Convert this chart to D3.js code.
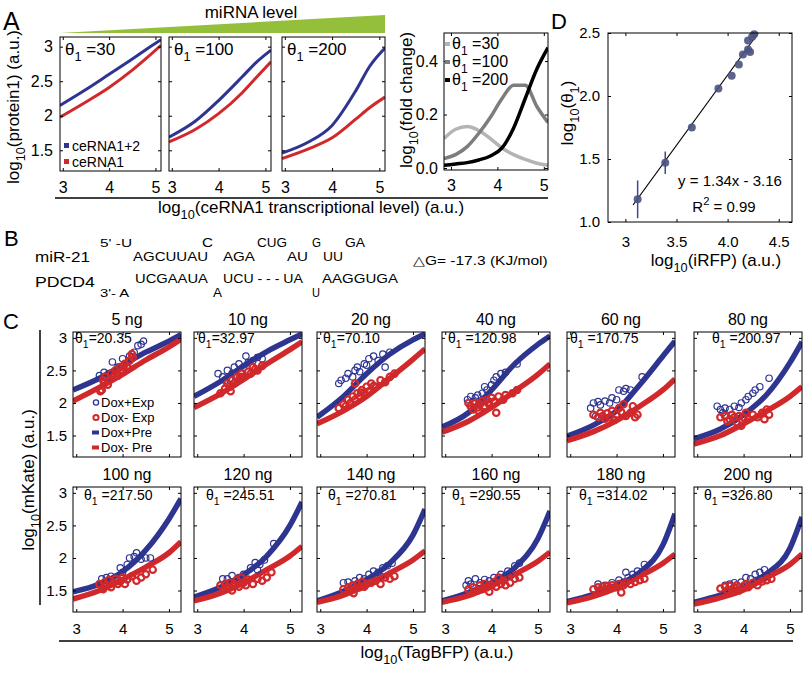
<!DOCTYPE html>
<html>
<head>
<meta charset="utf-8">
<script src="https://cdn.jsdelivr.net/npm/d3@7"></script>
<style>
  body { margin: 0; background: #fff; }
  text { font-family: "Liberation Sans", Arial, Helvetica, sans-serif; fill: #000; }
</style>
</head>
<body>
<svg id="fig" width="807" height="674"></svg>
<script>
// ---------- data ----------
// panel A: model curves, y values at aX
var aX = [2.94, 3.5, 4.0, 4.5, 4.8, 5.12];
var aTheta = ["30", "100", "200"];
var aBlue = [
  [2.15, 2.38, 2.60, 2.82, 2.96, 3.10],
  [1.69, 1.92, 2.22, 2.56, 2.77, 2.95],
  [1.46, 1.62, 1.86, 2.36, 2.72, 2.98]
];
var aRed = [
  [1.98, 2.20, 2.41, 2.66, 2.83, 3.02],
  [1.62, 1.80, 2.03, 2.33, 2.55, 2.78],
  [1.38, 1.52, 1.68, 1.95, 2.12, 2.27]
];
// panel A: fold change
var foldX = [2.85, 3.1, 3.35, 3.6, 3.85, 4.1, 4.35, 4.6, 4.85, 5.09];
var foldTheta = ["30", "100", "200"];
var foldY = [
  [0.11, 0.145, 0.155, 0.14, 0.11, 0.075, 0.05, 0.032, 0.018, 0.01],
  [0.035, 0.05, 0.08, 0.13, 0.19, 0.26, 0.31, 0.31, 0.23, 0.17],
  [0.01, 0.015, 0.02, 0.03, 0.045, 0.075, 0.15, 0.26, 0.37, 0.45]
];

// panel B: hybrid text pieces [text, width]
var bNames = [["miR-21", 55], ["PDCD4", 60]];
var bTop = [["5' -U", 32], ["AGCUUAU", 75], ["C", 11], ["AGA", 32], ["CUG", 30], ["AU", 21], ["G", 9], ["UU", 20], ["GA", 20]];
var bBottom = [["3'- A", 30], ["UCGAAUA", 73], ["A", 9], ["UCU - - - UA", 80], ["U", 8], ["AAGGUGA", 76]];
var bEnergy = ["△G= -17.3 (KJ/mol)", 134];

// panel D
var dX = [3.12, 3.39, 3.65, 3.91, 4.04, 4.11, 4.15, 4.20, 4.22, 4.20, 4.24, 4.26];
var dY = [1.18, 1.47, 1.75, 2.06, 2.16, 2.25, 2.33, 2.37, 2.35, 2.44, 2.47, 2.49];
var dErr = [0.15, 0.09, 0.02, 0.02, 0.02, 0.02, 0.02, 0.02, 0.02, 0.02, 0.02, 0.02];
var dFit = [[3.075, 1.135], [4.30, 2.5]];

// panel C
var cTitles = ["5 ng", "10 ng", "20 ng", "40 ng", "60 ng", "80 ng",
               "100 ng", "120 ng", "140 ng", "160 ng", "180 ng", "200 ng"];
var cTheta = ["=20.35", "=32.97", "=70.10", " =120.98", " =170.75", " =200.97",
              " =217.50", " =245.51", " =270.81", " =290.55", " =314.02", " =326.80"];
var cPreX = [2.93, 3.5, 4.0, 4.5, 5.0, 5.26];
var cBluePre = [
  [2.20, 2.38, 2.58, 2.78, 2.95, 3.05],
  [2.10, 2.33, 2.57, 2.79, 2.97, 3.06],
  [1.78, 2.10, 2.45, 2.75, 2.97, 3.06],
  [1.63, 1.85, 2.20, 2.60, 2.90, 3.03],
  [1.49, 1.66, 1.88, 2.28, 2.72, 2.95],
  [1.45, 1.60, 1.82, 2.13, 2.62, 2.94],
  [1.48, 1.60, 1.79, 2.12, 2.60, 2.91],
  [1.40, 1.55, 1.74, 2.03, 2.50, 2.86],
  [1.34, 1.49, 1.67, 1.92, 2.35, 2.75],
  [1.34, 1.47, 1.62, 1.85, 2.30, 2.72],
  [1.33, 1.44, 1.58, 1.78, 2.20, 2.68],
  [1.32, 1.43, 1.56, 1.76, 2.15, 2.63]
];
var cRedPre = [
  [2.03, 2.24, 2.44, 2.66, 2.86, 2.98],
  [1.93, 2.14, 2.36, 2.60, 2.82, 2.94],
  [1.68, 1.88, 2.10, 2.38, 2.67, 2.83],
  [1.55, 1.72, 1.93, 2.18, 2.44, 2.60],
  [1.42, 1.56, 1.73, 1.95, 2.20, 2.37],
  [1.37, 1.50, 1.68, 1.88, 2.10, 2.25],
  [1.37, 1.50, 1.67, 1.86, 2.08, 2.25],
  [1.34, 1.46, 1.62, 1.82, 2.03, 2.18],
  [1.32, 1.43, 1.58, 1.77, 1.97, 2.11],
  [1.32, 1.42, 1.57, 1.75, 1.95, 2.09],
  [1.31, 1.41, 1.54, 1.72, 1.92, 2.06],
  [1.29, 1.39, 1.51, 1.70, 1.90, 2.06]
];
var cBlueExp = [
  [[3.5,2.42],[3.6,2.47],[3.7,2.45],[3.78,2.63],[3.85,2.5],[3.9,2.55],[4.0,2.68],[4.05,2.6],[4.15,2.72],[4.25,2.78],[4.33,2.88],[4.4,2.9],[4.45,2.95],[3.65,2.38]],
  [[3.45,2.45],[3.55,2.4],[3.6,2.35],[3.65,2.5],[3.75,2.45],[3.8,2.55],[3.9,2.6],[4.0,2.55],[4.05,2.72],[4.1,2.62],[4.2,2.65],[4.3,2.7],[4.4,2.68],[3.7,2.38]],
  [[3.4,2.3],[3.45,2.35],[3.55,2.38],[3.6,2.45],[3.7,2.4],[3.75,2.5],[3.8,2.55],[3.85,2.48],[3.95,2.6],[4.0,2.58],[4.05,2.68],[4.15,2.72],[4.25,2.65],[4.35,2.75],[4.4,2.55],[4.5,2.78]],
  [[3.48,2.05],[3.55,2.1],[3.6,2.02],[3.65,2.08],[3.7,2.12],[3.8,2.15],[3.85,2.25],[3.9,2.2],[4.0,2.28],[4.05,2.35],[4.1,2.4],[4.2,2.45],[4.3,2.47],[4.55,2.6],[3.75,2.0]],
  [[3.44,1.92],[3.5,2.0],[3.6,2.02],[3.65,1.97],[3.75,2.03],[3.85,2.0],[3.9,2.08],[4.0,2.05],[4.05,2.2],[4.15,2.18],[4.2,2.22],[4.3,2.2],[4.55,2.4],[3.55,1.8]],
  [[3.43,1.95],[3.5,1.9],[3.6,1.92],[3.7,1.9],[3.8,1.95],[3.9,1.93],[3.95,2.0],[4.05,2.05],[4.1,2.1],[4.2,2.15],[4.25,2.2],[4.35,2.25],[4.55,2.38],[3.55,1.85]],
  [[3.55,1.68],[3.65,1.7],[3.75,1.72],[3.85,1.7],[4.0,1.78],[4.1,1.9],[4.15,2.0],[4.25,2.02],[4.3,2.08],[4.4,1.98],[4.5,2.0],[4.6,2.0],[3.95,1.85]],
  [[3.55,1.68],[3.65,1.68],[3.75,1.73],[3.9,1.7],[4.0,1.75],[4.15,1.85],[4.25,1.93],[4.35,1.9],[4.45,1.97],[4.65,2.22],[4.3,1.82]],
  [[3.5,1.62],[3.6,1.63],[3.75,1.65],[3.85,1.7],[3.95,1.68],[4.05,1.75],[4.15,1.8],[4.25,1.78],[4.35,1.85],[4.45,1.88],[4.55,1.92],[4.3,1.72]],
  [[3.45,1.58],[3.5,1.65],[3.55,1.6],[3.65,1.68],[3.75,1.62],[3.85,1.67],[3.95,1.65],[4.05,1.7],[4.2,1.75],[4.35,1.8],[4.5,1.88],[4.6,1.92],[4.4,1.72]],
  [[3.6,1.6],[3.75,1.58],[3.9,1.62],[4.05,1.66],[4.15,1.63],[4.25,1.7],[4.35,1.75],[4.45,1.8],[4.2,1.78],[4.6,1.9]],
  [[3.6,1.58],[3.7,1.6],[3.8,1.62],[3.95,1.63],[4.05,1.7],[4.15,1.68],[4.25,1.75],[4.35,1.78],[4.45,1.82],[4.5,1.72]]
];
var cRedExp = [
  [[3.52,2.18],[3.55,2.2],[3.6,2.3],[3.62,2.4],[3.7,2.35],[3.75,2.45],[3.8,2.4],[3.85,2.5],[3.9,2.42],[3.95,2.55],[4.0,2.5],[4.05,2.6],[4.1,2.55],[4.15,2.65],[4.2,2.75],[4.22,2.7],[3.68,2.28],[3.58,2.35],[3.88,2.46],[4.02,2.56]],
  [[3.5,2.15],[3.6,2.22],[3.65,2.3],[3.7,2.25],[3.75,2.35],[3.8,2.3],[3.85,2.4],[3.9,2.35],[3.95,2.45],[4.0,2.4],[4.1,2.48],[4.15,2.45],[4.2,2.55],[4.3,2.5],[4.4,2.57],[3.72,2.18],[3.92,2.4],[4.25,2.52]],
  [[3.4,1.92],[3.5,1.98],[3.55,1.95],[3.6,2.05],[3.65,2.0],[3.7,2.1],[3.75,2.05],[3.8,2.15],[3.85,2.1],[3.9,2.2],[3.95,2.15],[4.0,2.25],[4.05,2.18],[4.1,2.3],[4.2,2.25],[4.3,2.35],[4.4,2.32],[4.5,2.4],[4.6,2.45],[3.75,2.3],[3.88,2.16],[4.15,2.26]],
  [[3.5,2.0],[3.55,1.95],[3.6,1.9],[3.65,2.0],[3.7,1.93],[3.75,1.98],[3.8,2.03],[3.85,1.95],[3.9,2.05],[3.95,1.98],[4.0,2.08],[4.05,2.02],[4.1,1.85],[4.15,2.1],[4.25,2.05],[4.3,2.12],[4.45,2.15],[4.55,2.2],[3.72,1.88],[3.92,2.0]],
  [[3.5,1.82],[3.6,1.78],[3.65,1.85],[3.7,1.8],[3.75,1.76],[3.8,1.84],[3.85,1.78],[3.9,1.88],[4.0,1.82],[4.05,1.92],[4.1,1.86],[4.15,1.98],[4.2,1.8],[4.3,1.85],[4.4,1.78],[4.45,1.82],[4.35,1.95],[3.95,1.74]],
  [[3.5,1.78],[3.6,1.8],[3.7,1.75],[3.75,1.82],[3.8,1.78],[3.85,1.7],[3.9,1.8],[3.95,1.65],[4.0,1.78],[4.05,1.85],[4.1,1.75],[4.2,1.82],[4.3,1.78],[4.4,1.85],[4.5,1.9],[4.55,1.82],[4.45,1.75],[3.65,1.72]],
  [[3.5,1.6],[3.6,1.62],[3.65,1.58],[3.7,1.66],[3.75,1.55],[3.8,1.62],[3.85,1.68],[3.9,1.6],[3.95,1.64],[4.0,1.7],[4.05,1.6],[4.1,1.67],[4.2,1.72],[4.3,1.65],[4.4,1.7],[4.5,1.75],[4.65,1.82],[3.58,1.52]],
  [[3.5,1.58],[3.6,1.6],[3.65,1.55],[3.7,1.62],[3.75,1.5],[3.8,1.6],[3.85,1.66],[3.9,1.56],[4.0,1.62],[4.05,1.58],[4.1,1.67],[4.2,1.6],[4.3,1.68],[4.4,1.65],[4.5,1.7],[4.6,1.78],[3.95,1.7]],
  [[3.5,1.52],[3.6,1.55],[3.65,1.5],[3.7,1.58],[3.75,1.53],[3.8,1.6],[3.85,1.55],[3.9,1.63],[3.95,1.56],[4.0,1.6],[4.1,1.62],[4.2,1.65],[4.3,1.6],[4.4,1.7],[4.5,1.68],[4.6,1.72],[3.72,1.46]],
  [[3.5,1.52],[3.6,1.55],[3.7,1.5],[3.75,1.58],[3.8,1.52],[3.85,1.6],[3.9,1.55],[4.0,1.58],[4.05,1.63],[4.1,1.56],[4.2,1.6],[4.25,1.65],[4.3,1.58],[4.4,1.62],[4.5,1.68],[4.6,1.7],[3.95,1.48],[4.15,1.7]],
  [[3.5,1.52],[3.6,1.55],[3.65,1.5],[3.7,1.56],[3.75,1.52],[3.8,1.57],[3.85,1.54],[3.9,1.58],[4.0,1.55],[4.05,1.6],[4.1,1.47],[4.15,1.58],[4.2,1.62],[4.3,1.6],[4.4,1.63],[4.5,1.66],[4.6,1.68]],
  [[3.5,1.53],[3.6,1.56],[3.65,1.5],[3.7,1.57],[3.75,1.52],[3.8,1.55],[3.85,1.58],[3.9,1.5],[4.0,1.57],[4.05,1.6],[4.1,1.55],[4.2,1.62],[4.3,1.58],[4.4,1.64],[4.5,1.66],[4.6,1.68]]
];

// ---------- drawing ----------
var BLUE = "#2e3590", RED = "#d1282b";
var svg = d3.select("#fig");
svg.append("rect").attr("width", 807).attr("height", 674).attr("fill", "#fff");

// text with sub/superscripts
function rich(g, x, y, parts, fs, anchor) {
  var t = g.append("text").attr("x", x).attr("y", y).attr("font-size", fs)
    .attr("text-anchor", anchor || "start");
  var shift = 0;
  parts.forEach(function (p) {
    var s = typeof p === "string" ? p : p[0];
    var mode = typeof p === "string" ? null : p[1];
    var target = mode === "sub" ? fs * 0.38 : mode === "sup" ? -fs * 0.45 : 0;
    t.append("tspan").attr("dy", target - shift)
      .attr("font-size", mode ? fs * 0.75 : fs)
      .style("white-space", "pre").text(s);
    shift = target;
  });
  return t;
}

// matlab style box with inward ticks on all sides
function frame(g, xs, ys, w, h, o) {
  function style(sel) {
    sel.select(".domain").remove();
    sel.attr("font-size", o.fs).attr("font-family", null);
    sel.selectAll("line").attr("stroke", "#000");
  }
  g.append("g").attr("transform", "translate(0," + h + ")")
    .call(d3.axisBottom(xs).tickValues(o.xt).tickSizeInner(-3).tickSizeOuter(0)
      .tickPadding(o.padX).tickFormat(o.showX ? (o.fmtX || String) : ""))
    .call(style);
  g.append("g")
    .call(d3.axisTop(xs).tickValues(o.xt).tickSizeInner(-3).tickSizeOuter(0).tickFormat(""))
    .call(style);
  g.append("g")
    .call(d3.axisLeft(ys).tickValues(o.yt).tickSizeInner(-3).tickSizeOuter(0)
      .tickPadding(o.padY).tickFormat(o.showY ? (o.fmtY || String) : ""))
    .call(style);
  g.append("g").attr("transform", "translate(" + w + ",0)")
    .call(d3.axisRight(ys).tickValues(o.yt).tickSizeInner(-3).tickSizeOuter(0).tickFormat(""))
    .call(style);
  g.append("rect").attr("width", w).attr("height", h)
    .attr("fill", "none").attr("stroke", "#000").attr("stroke-width", 1);
}

var clipN = 0;
function clipped(g, w, h) {
  var id = "clip" + (clipN++);
  g.append("clipPath").attr("id", id).append("rect").attr("width", w).attr("height", h);
  return g.append("g").attr("clip-path", "url(#" + id + ")");
}

// panel letters
[["A", 3, 30, 25], ["B", 4, 246, 22], ["C", 3, 329, 22], ["D", 551, 29, 22]].forEach(function (l) {
  svg.append("text").attr("x", l[1]).attr("y", l[2]).attr("font-size", l[3]).text(l[0]);
});

// ---------- panel A ----------
svg.append("text").attr("x", 251).attr("y", 18).attr("font-size", 17)
  .attr("text-anchor", "middle").text("miRNA level");
svg.append("polygon").attr("points", "60,33 385,15 385,33").attr("fill", "#93bf3b");

var aBoxes = [{ x: 60, w: 101 }, { x: 169, w: 102 }, { x: 282, w: 103 }];
var aTop = 37, aH = 134;
aBoxes.forEach(function (b, i) {
  var g = svg.append("g").attr("transform", "translate(" + b.x + "," + aTop + ")");
  var xs = d3.scaleLinear().domain([2.94, 5.12]).range([0, b.w]);
  var ys = d3.scaleLinear().domain([1.2, 3.14]).range([aH, 0]);
  var line = d3.line().x(function (d, k) { return xs(aX[k]); }).y(function (d) { return ys(d); })
    .curve(d3.curveMonotoneX);
  var c = clipped(g, b.w, aH);
  c.append("path").attr("d", line(aRed[i])).attr("fill", "none").attr("stroke", RED).attr("stroke-width", 3);
  c.append("path").attr("d", line(aBlue[i])).attr("fill", "none").attr("stroke", BLUE).attr("stroke-width", 3);
  frame(g, xs, ys, b.w, aH, { xt: [3, 4, 5], yt: [1.5, 2, 2.5, 3], showX: true, showY: i === 0,
    fs: 16, padX: 11, padY: 7 });
  rich(g, 5, 18, ["θ", ["1", "sub"], " =" + aTheta[i]], 17);
});
// legend A
svg.append("rect").attr("x", 64).attr("y", 143).attr("width", 5).attr("height", 5).attr("fill", BLUE);
svg.append("text").attr("x", 72).attr("y", 151).attr("font-size", 14).text("ceRNA1+2");
svg.append("rect").attr("x", 64).attr("y", 159).attr("width", 5).attr("height", 5).attr("fill", RED);
svg.append("text").attr("x", 72).attr("y", 167).attr("font-size", 14).text("ceRNA1");

// fold change subplot
(function () {
  var bx = 444, by = 33, w = 104, h = 137;
  var g = svg.append("g").attr("transform", "translate(" + bx + "," + by + ")");
  var xs = d3.scaleLinear().domain([2.85, 5.09]).range([0, w]);
  var ys = d3.scaleLinear().domain([-0.0075, 0.505]).range([h, 0]);
  var greys = ["#b4b4b4", "#7d7d7d", "#000"];
  var line = d3.line().x(function (d, k) { return xs(foldX[k]); }).y(function (d) { return ys(d); })
    .curve(d3.curveMonotoneX);
  var c = clipped(g, w, h);
  foldY.forEach(function (s, i) {
    c.append("path").attr("d", line(s)).attr("fill", "none").attr("stroke", greys[i]).attr("stroke-width", 3.5);
  });
  frame(g, xs, ys, w, h, { xt: [3, 4, 5], yt: [0, 0.2, 0.4], showX: true, showY: true,
    fs: 16, padX: 10, padY: 6, fmtY: d3.format(".1f") });
  foldTheta.forEach(function (t, i) {
    g.append("line").attr("x1", 1).attr("x2", 6).attr("y1", 11 + i * 18).attr("y2", 11 + i * 18)
      .attr("stroke", greys[i]).attr("stroke-width", 4);
    rich(g, 8, 16 + i * 18, ["θ", ["1", "sub"], " =" + t], 16);
  });
})();

svg.append("line").attr("x1", 55).attr("x2", 548).attr("y1", 198).attr("y2", 198).attr("stroke", "#000").attr("stroke-width", 1.5);
rich(svg, 311, 213, ["log", ["10", "sub"], "(ceRNA1 transcriptional level) (a.u.)"], 17, "middle");
rich(svg.append("g").attr("transform", "translate(19,107) rotate(-90)"), 0, 0,
  ["log", ["10", "sub"], "(protein1) (a.u.)"], 17, "middle");
rich(svg.append("g").attr("transform", "translate(412,100) rotate(-90)"), 0, 0,
  ["log", ["10", "sub"], "(fold change)"], 17, "middle");

// ---------- panel B ----------
// the reference lettering is wide, so each piece is stretched to its measured width.
// natural width from Arial advance widths (em units), no DOM measuring needed
var adv = { A: .667, G: .778, C: .722, U: .722, "-": .333, " ": .278, "'": .191, "5": .556, "3": .556,
  m: .833, i: .222, R: .722, "2": .556, "1": .556, P: .667, D: .722, "4": .556, "△": .72,
  "=": .584, ".": .278, "7": .556, "(": .333, K: .667, J: .5, "/": .278, o: .556, l: .222, ")": .333 };
function seqText(s, x, y, fs) {
  var nat = 0;
  for (var k = 0; k < s[0].length; k++) nat += (adv[s[0][k]] || 0.6) * fs;
  svg.append("g").attr("transform", "translate(" + x + "," + y + ") scale(" + (s[1] / nat).toFixed(3) + ",1)")
    .append("text").attr("font-size", fs).style("white-space", "pre").text(s[0]);
}
seqText(bNames[0], 35, 262, 15);
seqText(bNames[1], 35, 287, 15);
var bTopPos = [[100, 247], [133, 261], [202, 247], [223, 261], [257, 247], [287, 261], [312, 247], [323, 261], [345, 247]];
var bBotPos = [[100, 297], [135, 283], [213, 297], [223, 283], [312, 297], [322, 283]];
bTop.forEach(function (s, i) { seqText(s, bTopPos[i][0], bTopPos[i][1], i === 0 ? 11.5 : 12.5); });
bBottom.forEach(function (s, i) { seqText(s, bBotPos[i][0], bBotPos[i][1], i === 0 ? 11.5 : 12.5); });
seqText(bEnergy, 413, 265, 13);

// ---------- panel D ----------
(function () {
  var bx = 608, by = 33, w = 184, h = 189;
  var g = svg.append("g").attr("transform", "translate(" + bx + "," + by + ")");
  var xs = d3.scaleLinear().domain([2.83, 4.63]).range([0, w]);
  var ys = d3.scaleLinear().domain([1.0, 2.5]).range([h, 0]);
  g.append("line").attr("x1", xs(dFit[0][0])).attr("y1", ys(dFit[0][1]))
    .attr("x2", xs(dFit[1][0])).attr("y2", ys(dFit[1][1])).attr("stroke", "#000").attr("stroke-width", 1.2);
  dX.forEach(function (x, i) {
    if (dErr[i] > 0.05) {
      g.append("line").attr("x1", xs(x)).attr("x2", xs(x)).attr("y1", ys(dY[i] - dErr[i])).attr("y2", ys(dY[i] + dErr[i]))
        .attr("stroke", "#3c4a94").attr("stroke-width", 1.5);
    }
  });
  g.selectAll("circle.d").data(dX).enter().append("circle")
    .attr("cx", function (d) { return xs(d); }).attr("cy", function (d, i) { return ys(dY[i]); })
    .attr("r", 4).attr("fill", "#4a5382").attr("fill-opacity", 0.9);
  frame(g, xs, ys, w, h, { xt: [3, 3.5, 4, 4.5], yt: [1, 1.5, 2, 2.5], showX: true, showY: true,
    fs: 15, padX: 14, padY: 8, fmtX: function (d) { return d === 3 ? "3" : d.toFixed(1); },
    fmtY: d3.format(".1f") });
})();
svg.append("text").attr("x", 730).attr("y", 186).attr("font-size", 15).attr("text-anchor", "middle").text("y = 1.34x - 3.16");
rich(svg, 724, 212, ["R", ["2", "sup"], " = 0.99"], 15, "middle");
rich(svg, 716, 266, ["log", ["10", "sub"], "(iRFP) (a.u.)"], 17, "middle");
rich(svg.append("g").attr("transform", "translate(573,113) rotate(-90)"), 0, 0,
  ["log", ["10", "sub"], "(θ", ["1", "sub"], ")"], 17, "middle");

// ---------- panel C ----------
var cLeft = [73, 194, 317, 442, 567, 694], cTop = [332, 487], cW = 108, cH = 125;
var thetaDx = [2, 4, 6, 6, 3, 18, 11, 12, 11, 10, 12, 10];
cTitles.forEach(function (title, i) {
  var r = Math.floor(i / 6), col = i % 6;
  var g = svg.append("g").attr("transform", "translate(" + cLeft[col] + "," + cTop[r] + ")");
  var xs = d3.scaleLinear().domain([2.93, 5.26]).range([0, cW]);
  var ys = d3.scaleLinear().domain([1.17, 3.09]).range([cH, 0]);
  var line = d3.line().x(function (d, k) { return xs(cPreX[k]); }).y(function (d) { return ys(d); })
    .curve(d3.curveMonotoneX);
  var c = clipped(g, cW, cH);
  c.append("path").attr("d", line(cBluePre[i])).attr("fill", "none").attr("stroke", BLUE).attr("stroke-width", 5.5);
  c.append("path").attr("d", line(cRedPre[i])).attr("fill", "none").attr("stroke", RED).attr("stroke-width", 5.5);
  c.selectAll("circle.b").data(cBlueExp[i]).enter().append("circle")
    .attr("cx", function (d) { return xs(d[0]); }).attr("cy", function (d) { return ys(d[1]); })
    .attr("r", 3.2).attr("fill", "none").attr("stroke", BLUE).attr("stroke-width", 1.2);
  c.selectAll("circle.r").data(cRedExp[i]).enter().append("circle")
    .attr("cx", function (d) { return xs(d[0]); }).attr("cy", function (d) { return ys(d[1]); })
    .attr("r", 3.2).attr("fill", "none").attr("stroke", RED).attr("stroke-width", 2.2);
  frame(g, xs, ys, cW, cH, { xt: [3, 4, 5], yt: [1.5, 2, 2.5, 3], showX: r === 1, showY: col === 0,
    fs: 15, padX: 11, padY: 6 });
  g.append("text").attr("x", cW / 2).attr("y", -7).attr("font-size", 16).attr("text-anchor", "middle").text(title);
  rich(g, thetaDx[i], r === 0 ? 11 : 13, ["θ", ["1", "sub"], cTheta[i]], 14);
});
// legend C
[["Dox+Exp", BLUE, "o", 407], ["Dox- Exp", RED, "o", 422], ["Dox+Pre", BLUE, "-", 437], ["Dox- Pre", RED, "-", 452]]
  .forEach(function (l) {
    if (l[2] === "o") {
      svg.append("circle").attr("cx", 96).attr("cy", l[3] - 4.5).attr("r", 2.6).attr("fill", "none")
        .attr("stroke", l[1]).attr("stroke-width", l[1] === RED ? 2 : 1.3);
    } else {
      svg.append("rect").attr("x", 92).attr("y", l[3] - 6.5).attr("width", 7).attr("height", 4).attr("fill", l[1]);
    }
    svg.append("text").attr("x", 101).attr("y", l[3]).attr("font-size", 13).style("white-space", "pre").text(l[0]);
  });
svg.append("line").attr("x1", 40).attr("x2", 40).attr("y1", 330).attr("y2", 605).attr("stroke", "#000").attr("stroke-width", 1.5);
svg.append("line").attr("x1", 59).attr("x2", 793).attr("y1", 641).attr("y2", 641).attr("stroke", "#000").attr("stroke-width", 1.5);
rich(svg, 437, 658, ["log", ["10", "sub"], "(TagBFP) (a.u.)"], 17, "middle");
rich(svg.append("g").attr("transform", "translate(34,480) rotate(-90)"), 0, 0,
  ["log", ["10", "sub"], "(mKate) (a.u.)"], 17, "middle");
</script>
</body>
</html>
